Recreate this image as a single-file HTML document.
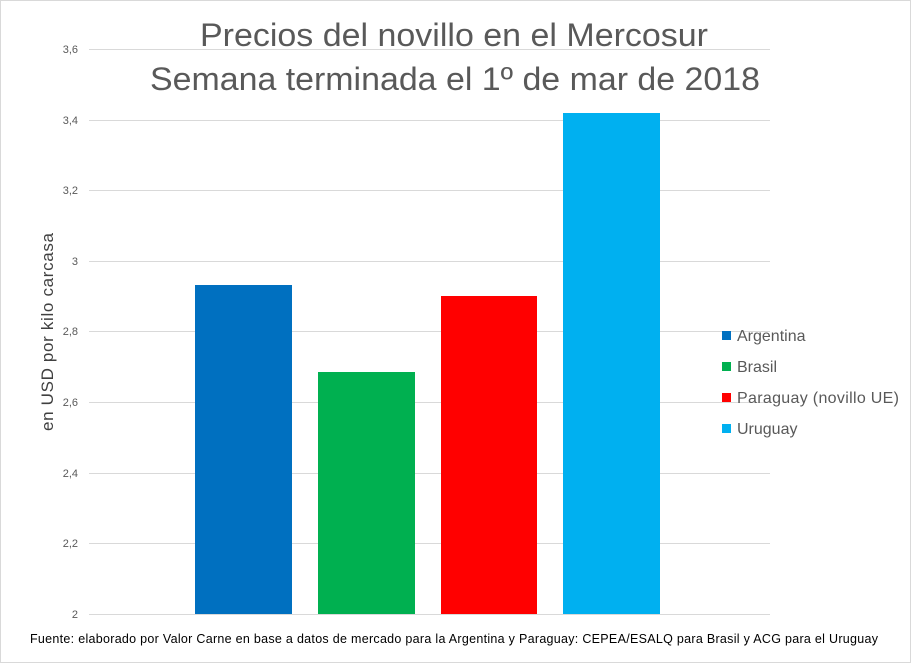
<!DOCTYPE html>
<html><head><meta charset="utf-8"><style>
body{margin:0;background:#fff}
svg{display:block;font-family:"Liberation Sans",sans-serif}
</style></head><body>
<svg width="911" height="663" viewBox="0 0 911 663" xmlns="http://www.w3.org/2000/svg">
<rect x="0.5" y="0.5" width="910" height="662" fill="#fff" stroke="#d9d9d9"/>
<g stroke="#d9d9d9" stroke-width="1">
<line x1="89" x2="770" y1="49.5" y2="49.5"/>
<line x1="89" x2="770" y1="120.5" y2="120.5"/>
<line x1="89" x2="770" y1="190.5" y2="190.5"/>
<line x1="89" x2="770" y1="261.5" y2="261.5"/>
<line x1="89" x2="770" y1="331.5" y2="331.5"/>
<line x1="89" x2="770" y1="402.5" y2="402.5"/>
<line x1="89" x2="770" y1="473.5" y2="473.5"/>
<line x1="89" x2="770" y1="543.5" y2="543.5"/>
<line x1="89" x2="770" y1="614.5" y2="614.5"/>
</g>
<g font-size="11" fill="#595959" text-anchor="end">
<text x="78" y="53">3,6</text><text x="78" y="124">3,4</text><text x="78" y="194">3,2</text>
<text x="78" y="265">3</text><text x="78" y="335">2,8</text><text x="78" y="406">2,6</text>
<text x="78" y="477">2,4</text><text x="78" y="547">2,2</text><text x="78" y="618">2</text>
</g>
<rect x="195" y="285" width="97" height="329" fill="#0070c0"/>
<rect x="318" y="372" width="97" height="242" fill="#00b050"/>
<rect x="441" y="296" width="96" height="318" fill="#ff0000"/>
<rect x="563" y="113" width="97" height="501" fill="#00b0f0"/>
<text x="200" y="46" font-size="32" fill="#595959" textLength="508" lengthAdjust="spacingAndGlyphs">Precios del novillo en el Mercosur</text>
<text x="150" y="90" font-size="32" fill="#595959" textLength="610" lengthAdjust="spacingAndGlyphs">Semana terminada el 1º de mar de 2018</text>
<text transform="translate(53,332) rotate(-90)" font-size="17" fill="#404040" text-anchor="middle" textLength="198">en USD por kilo carcasa</text>
<g font-size="16" fill="#595959">
<rect x="722" y="331" width="9" height="9" fill="#0070c0"/><text x="737" y="341">Argentina</text>
<rect x="722" y="362" width="9" height="9" fill="#00b050"/><text x="737" y="372">Brasil</text>
<rect x="722" y="393" width="9" height="9" fill="#ff0000"/><text x="737" y="403" textLength="162">Paraguay (novillo UE)</text>
<rect x="722" y="424" width="9" height="9" fill="#00b0f0"/><text x="737" y="434">Uruguay</text>
</g>
<text x="454" y="643" font-size="12.5" fill="#000" text-anchor="middle" textLength="848">Fuente: elaborado por Valor Carne en base a datos de mercado para la Argentina y Paraguay: CEPEA/ESALQ para Brasil y ACG para el Uruguay</text>
</svg>
</body></html>
